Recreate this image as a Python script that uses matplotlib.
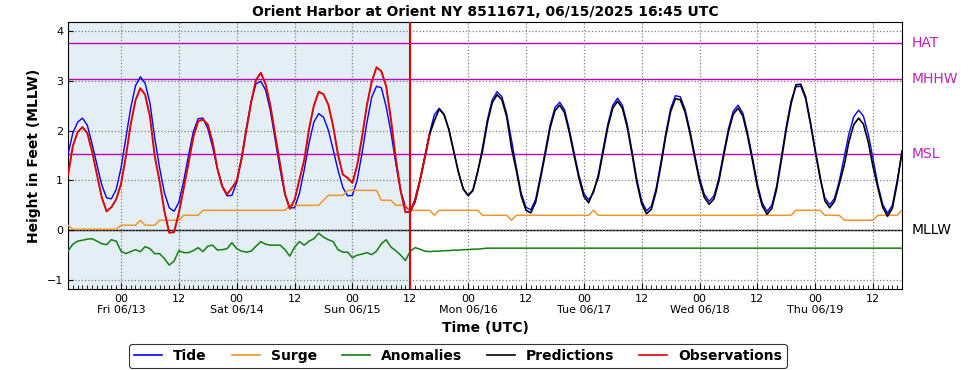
import pandas as pd
import matplotlib
matplotlib.use('Agg')
import matplotlib.pyplot as plt
import matplotlib.dates as mdates
from matplotlib.lines import Line2D

plt.rcParams['font.family'] = 'DejaVu Sans'

# hourly data, 06/12 13:00 UTC to 06/19 18:00 UTC
start_time = '2025-06-12 13:00'
now_time = pd.Timestamp('2025-06-15 12:00')

tide = [1.52, 1.95, 2.17, 2.25, 2.11, 1.73, 1.32, 0.91, 0.65, 0.63, 0.82,
        1.25, 1.85, 2.45, 2.90, 3.08, 2.95, 2.55, 1.85, 1.25, 0.75,
        0.45, 0.38, 0.56, 0.99, 1.50, 1.98, 2.24, 2.25, 2.04, 1.67,
        1.23, 0.87, 0.69, 0.70, 0.96, 1.45, 2.05, 2.59, 2.94, 2.99,
        2.81, 2.39, 1.80, 1.22, 0.72, 0.45, 0.45, 0.74, 1.21, 1.75,
        2.17, 2.34, 2.27, 2.01, 1.62, 1.21, 0.86, 0.69, 0.70, 1.01,
        1.55, 2.16, 2.67, 2.89, 2.86, 2.48, 1.96, 1.34, 0.79, 0.47,
        0.39, 0.56, 0.98, 1.47, 1.95, 2.32, 2.45, 2.33, 2.03, 1.59,
        1.16, 0.82, 0.69, 0.79, 1.17, 1.67, 2.22, 2.62, 2.78, 2.68,
        2.34, 1.81, 1.26, 0.75, 0.46, 0.41, 0.62, 1.09, 1.59, 2.11,
        2.46, 2.57, 2.42, 2.02, 1.55, 1.10, 0.74, 0.61, 0.75, 1.12,
        1.63, 2.14, 2.51, 2.65, 2.51, 2.13, 1.59, 1.02, 0.59, 0.39,
        0.48, 0.84, 1.37, 1.95, 2.44, 2.70, 2.68, 2.43, 2.01, 1.52,
        1.05, 0.72, 0.58, 0.69, 1.04, 1.55, 2.04, 2.39, 2.51, 2.35,
        1.94, 1.45, 0.93, 0.55, 0.38, 0.50, 0.89, 1.48, 2.09, 2.60,
        2.88, 2.89, 2.64, 2.13, 1.57, 1.04, 0.65, 0.51, 0.64, 0.99,
        1.46, 1.94, 2.28, 2.41, 2.29, 1.93, 1.43, 0.91, 0.52, 0.34,
        0.50, 1.00, 1.55]

surge = ([0.1] + [0.02] * 10 + [0.1] * 4 + [0.2] + [0.1] * 3 + [0.2] * 5 + [0.3] * 4
         + [0.4] * 18 + [0.5] * 7 + [0.6] + [0.7] * 4 + [0.8] * 7 + [0.6] * 3 + [0.5] * 3
         + [0.4] * 5 + [0.3] + [0.4] * 9 + [0.3] * 6 + [0.2] + [0.3] * 16 + [0.4]
         + [0.3] * 41 + [0.4] * 6 + [0.3] * 4 + [0.2] * 7 + [0.3] * 5 + [0.4])

anomalies = ([-0.42, -0.28, -0.22, -0.20, -0.18, -0.17, -0.22, -0.27, -0.29, -0.19, -0.22,
              -0.42, -0.47, -0.43, -0.39, -0.43, -0.33, -0.37, -0.47, -0.47, -0.57,
              -0.70, -0.62, -0.41, -0.45, -0.45, -0.41, -0.35, -0.43, -0.32, -0.30,
              -0.40, -0.39, -0.37, -0.25, -0.37, -0.42, -0.44, -0.42, -0.32, -0.23,
              -0.28, -0.30, -0.30, -0.30, -0.39, -0.52, -0.34, -0.23, -0.30, -0.22,
              -0.17, -0.06, -0.14, -0.19, -0.23, -0.39, -0.44, -0.44, -0.55, -0.50,
              -0.48, -0.45, -0.49, -0.42, -0.27, -0.19, -0.34, -0.41, -0.50, -0.61,
              -0.42, -0.35, -0.38, -0.42, -0.43,
              -0.42, -0.42, -0.41, -0.41, -0.40, -0.40, -0.39, -0.39, -0.38, -0.38, -0.37]
             + [-0.36] * 87)

observations = [1.10, 1.69, 1.97, 2.07, 1.95, 1.58, 1.12, 0.66, 0.38, 0.46, 0.62,
                0.93, 1.48, 2.12, 2.61, 2.85, 2.72, 2.28, 1.48, 0.98, 0.38,
                -0.05, -0.04, 0.35, 0.84, 1.35, 1.87, 2.19, 2.22, 2.12, 1.77,
                1.23, 0.88, 0.72, 0.85, 0.99, 1.43, 2.01, 2.57, 3.02, 3.16,
                2.93, 2.49, 1.90, 1.32, 0.73, 0.43, 0.61, 1.01, 1.41, 2.03,
                2.50, 2.78, 2.73, 2.52, 2.09, 1.52, 1.12, 1.05, 0.95, 1.31,
                1.87, 2.51, 2.98, 3.27, 3.19, 2.89, 2.22, 1.43, 0.79, 0.36,
                0.37, 0.61, 1.00, 1.45, 1.92]

# predictions start at the "now" line
predictions = [0.37, 0.61, 1.00, 1.45, 1.92, 2.20, 2.43, 2.32, 2.02, 1.59,
               1.16, 0.83, 0.70, 0.81, 1.19, 1.60, 2.16, 2.56, 2.72, 2.62,
               2.28, 1.65, 1.20, 0.69, 0.40, 0.35, 0.56, 1.03, 1.53, 2.05,
               2.40, 2.51, 2.36, 1.96, 1.49, 1.04, 0.68, 0.55, 0.79, 1.06,
               1.57, 2.08, 2.45, 2.59, 2.45, 2.07, 1.53, 0.96, 0.53, 0.33,
               0.42, 0.78, 1.31, 1.89, 2.38, 2.64, 2.62, 2.37, 1.95, 1.46,
               0.99, 0.66, 0.52, 0.63, 0.98, 1.49, 1.98, 2.33, 2.45, 2.29,
               1.88, 1.39, 0.87, 0.49, 0.32, 0.44, 0.83, 1.42, 2.03, 2.54,
               2.92, 2.93, 2.68, 2.17, 1.61, 1.08, 0.59, 0.45, 0.58, 0.93,
               1.30, 1.78, 2.12, 2.25, 2.13, 1.77, 1.27, 0.85, 0.46, 0.28,
               0.44, 0.94, 1.59]

datums = {'HAT': 3.75, 'MHHW': 3.03, 'MSL': 1.53, 'MLLW': 0.0}

times = pd.date_range(start_time, periods=len(tide), freq='h')
obs_times = pd.date_range(start_time, periods=len(observations), freq='h')
pred_times = pd.date_range(now_time, periods=len(predictions), freq='h')

fig = plt.figure(figsize=(9.69, 3.70), dpi=100)
ax = fig.add_axes([68 / 969, 1 - 289 / 370, 834 / 969, 267 / 370])

ax.axvspan(times[0], now_time, color='#e4eef5', zorder=0)

for name, val in datums.items():
    col = 'black' if name == 'MLLW' else '#c000c0'
    ax.axhline(val, color=col, lw=1.0, zorder=1)
    ax.text(1.011, val, name, transform=ax.get_yaxis_transform(), color=col if name == 'MLLW' else '#c020c0',
            fontsize=10, va='center', ha='left')

ax.plot(times, tide, color='#0000ff', lw=1.0, zorder=3)
ax.plot(times, surge, color='#f0962c', lw=1.1, zorder=3)
ax.plot(times, anomalies, color='#108010', lw=1.1, zorder=3)
ax.plot(pred_times, predictions, color='black', lw=1.2, zorder=4)
ax.plot(obs_times, observations, color='#e00000', lw=1.4, zorder=5)
ax.axvline(now_time, color='#e00000', lw=1.5, zorder=6)

ax.set_xlim(times[0], times[-1])
ax.set_ylim(-1.18, 4.18)
ax.set_yticks([-1, 0, 1, 2, 3, 4])

major = pd.date_range('2025-06-13 00:00', '2025-06-19 12:00', freq='12h')
labels = []
for t in major:
    if t.hour == 0:
        labels.append('00\n' + t.strftime('%a %m/%d'))
    else:
        labels.append('12')
ax.set_xticks(major)
ax.set_xticklabels(labels)
ax.xaxis.set_minor_locator(mdates.HourLocator())
ax.tick_params(axis='both', which='both', direction='in', labelsize=8)
ax.tick_params(axis='x', which='minor', length=3)
ax.tick_params(axis='x', which='major', length=4)
ax.grid(True, which='major', color='#808080', linestyle=':', lw=0.9)

ax.set_title('Orient Harbor at Orient NY 8511671, 06/15/2025 16:45 UTC', fontsize=10, fontweight='bold', pad=4)
ax.set_ylabel('Height in Feet (MLLW)', fontsize=10, fontweight='bold')
ax.set_xlabel('Time (UTC)', fontsize=10, fontweight='bold', labelpad=4)

handles = [Line2D([], [], color='#0000ff', lw=1.2),
           Line2D([], [], color='#f0962c', lw=1.2),
           Line2D([], [], color='#108010', lw=1.2),
           Line2D([], [], color='black', lw=1.2),
           Line2D([], [], color='#e00000', lw=1.2)]
leg = fig.legend(handles, ['Tide', 'Surge', 'Anomalies', 'Predictions', 'Observations'],
                 loc='upper center', bbox_to_anchor=(0.4727, 0.088), ncol=5,
                 prop={'weight': 'bold', 'size': 10}, frameon=True, fancybox=True,
                 edgecolor='black', handlelength=2.0, columnspacing=1.8, borderpad=0.35)
leg.get_frame().set_linewidth(0.8)

fig.savefig('out.png', dpi=100)
